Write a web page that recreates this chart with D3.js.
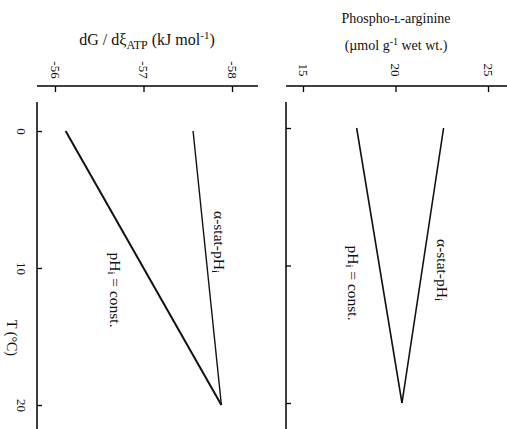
<!DOCTYPE html>
<html>
<head>
<meta charset="utf-8">
<script src="https://cdn.jsdelivr.net/npm/d3@7"></script>
<style>
  body { margin: 0; background: #fff; }
  svg { display: block; font-family: "Liberation Serif", "DejaVu Serif", serif; }
  .axis text { font-family: "Liberation Serif", serif; font-size: 13px; fill: #111; }
</style>
</head>
<body>
<svg></svg>
<script>
const svg = d3.select("svg");

const width = 507;
const height = 429;

// T (°C) endpoints
const temps = [0, 20];
const tempTicks = [0, 10, 20];

// dG / dξATP (kJ mol-1)
const dgConst = [-56.12, -57.88];
const dgAlpha = [-57.56, -57.88];
const dgTicks = [-56, -57, -58];

// phospho-L-arginine (µmol g-1 wet wt.)
const paConst = [17.9, 20.35];
const paAlpha = [22.6, 20.35];
const paTicks = [15, 20, 25];

svg.attr("width", width).attr("height", height);

const axisY = 86;

const panels = [
    {
        x: d3.scaleLinear().domain([-56, -58]).range([55, 232]),
        y: d3.scaleLinear().domain([0, 20]).range([131, 405]),
        left: 37, right: 258,
        ticks: dgTicks,
        series: [dgConst, dgAlpha],
        widths: [2, 1.4],
        showTempLabels: true,
        labels: [
            {text: "α-stat-pH", sub: "i", x: 220, y: 242},
            {text: "pH", sub: "i", rest: " = const.", x: 116, y: 290}
        ]
    },
    {
        x: d3.scaleLinear().domain([15, 25]).range([303, 488]),
        y: d3.scaleLinear().domain([0, 20]).range([128, 403]),
        left: 286, right: 507,
        ticks: paTicks,
        series: [paConst, paAlpha],
        widths: [1.6, 1.6],
        showTempLabels: false,
        labels: [
            {text: "α-stat-pH", sub: "i", x: 443, y: 270},
            {text: "pH", sub: "i", rest: " = const.", x: 354, y: 283}
        ]
    }
];

panels.forEach(p => {
    // top (value) axis
    const top = svg.append("g")
        .attr("class", "axis")
        .attr("transform", `translate(0,${axisY})`)
        .call(d3.axisTop(p.x).tickValues(p.ticks).tickFormat(d => String(d)).tickSize(-6).tickSizeOuter(0));
    top.select(".domain").attr("d", `M${p.left},0H${p.right}`).attr("stroke-width", 1.5);
    top.selectAll(".tick line").attr("stroke-width", 1.3);
    top.selectAll(".tick text")
        .attr("y", 0)
        .attr("dy", "0.35em")
        .attr("text-anchor", "middle")
        .attr("transform", "translate(0,-16) rotate(90)");

    // T axis
    const side = svg.append("g")
        .attr("class", "axis")
        .attr("transform", `translate(${p.left},0)`)
        .call(d3.axisRight(p.y).tickValues(tempTicks).tickSize(5).tickSizeOuter(0));
    side.select(".domain").attr("d", `M0,${axisY + 16}V${height}`).attr("stroke-width", 1.5);
    side.selectAll(".tick line").attr("stroke-width", 1.3);
    if (p.showTempLabels) {
        side.selectAll(".tick text")
            .attr("x", 0)
            .attr("dy", "0.35em")
            .attr("text-anchor", "middle")
            .attr("transform", "translate(-15,0) rotate(90)");
    } else {
        side.selectAll(".tick text").remove();
    }

    const line = d3.line()
        .x((d, i) => p.x(d))
        .y((d, i) => p.y(temps[i]));

    p.series.forEach((s, k) => {
        svg.append("path")
            .datum(s)
            .attr("fill", "none")
            .attr("stroke", "#111")
            .attr("stroke-width", p.widths[k])
            .attr("d", line);
    });

    p.labels.forEach(l => {
        const t = svg.append("text")
            .attr("transform", `translate(${l.x},${l.y}) rotate(90)`)
            .attr("text-anchor", "middle")
            .attr("dominant-baseline", "central")
            .attr("font-size", 15.5)
            .attr("fill", "#111");
        t.append("tspan").text(l.text);
        t.append("tspan").attr("font-size", 11).attr("dy", 4).text(l.sub);
        if (l.rest) t.append("tspan").attr("dy", -4).text(l.rest);
    });
});

// axis titles
const dgTitle = svg.append("text")
    .attr("x", 147).attr("y", 45)
    .attr("text-anchor", "middle")
    .attr("font-size", 16)
    .attr("fill", "#111");
dgTitle.append("tspan").text("dG / dξ");
dgTitle.append("tspan").attr("font-size", 12).attr("dy", 4).text("ATP");
dgTitle.append("tspan").attr("dy", -4).text(" (kJ mol");
dgTitle.append("tspan").attr("font-size", 11).attr("dy", -6).text("-1");
dgTitle.append("tspan").attr("dy", 6).text(")");

svg.append("text")
    .attr("x", 396).attr("y", 23)
    .attr("text-anchor", "middle")
    .attr("font-size", 14)
    .attr("fill", "#111")
    .text("Phospho-\u029F-arginine");

const paTitle = svg.append("text")
    .attr("x", 396).attr("y", 50)
    .attr("text-anchor", "middle")
    .attr("font-size", 14)
    .attr("fill", "#111");
paTitle.append("tspan").text("(µmol g");
paTitle.append("tspan").attr("font-size", 10).attr("dy", -5).text("-1");
paTitle.append("tspan").attr("dy", 5).text(" wet wt.)");

svg.append("text")
    .attr("transform", "translate(11,338) rotate(90)")
    .attr("text-anchor", "middle")
    .attr("dominant-baseline", "central")
    .attr("font-size", 14)
    .attr("fill", "#111")
    .text("T (°C)");
</script>
</body>
</html>
